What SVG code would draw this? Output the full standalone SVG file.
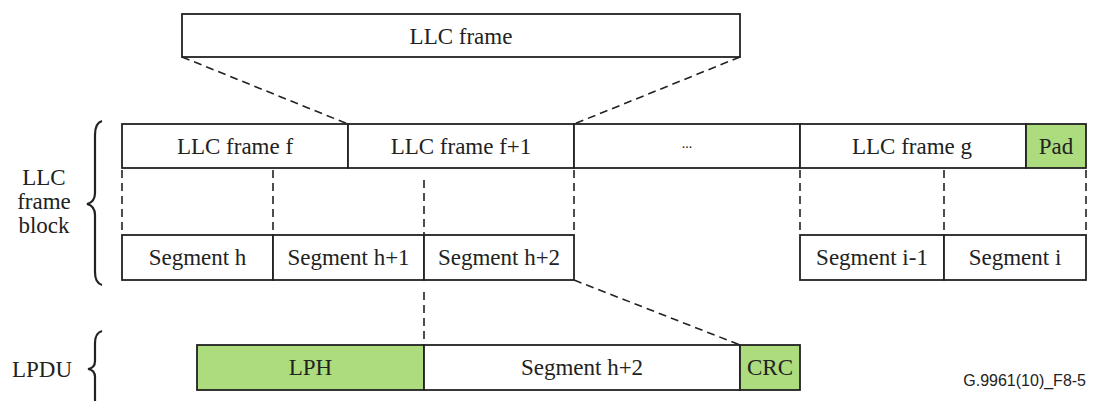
<svg xmlns="http://www.w3.org/2000/svg" width="1094" height="401" viewBox="0 0 1094 401">
<style>
.box{fill:#fff;stroke:#222;stroke-width:1.8}
.g{fill:#acdc7e;stroke:#222;stroke-width:1.8}
.t{font-family:"Liberation Serif","Times New Roman",serif;font-size:23px;fill:#222;text-anchor:middle}
.d{fill:none;stroke:#222;stroke-width:1.6;stroke-dasharray:8,5}
.br{fill:none;stroke:#222;stroke-width:2.2}
.s{font-family:"Liberation Sans",Arial,sans-serif;font-size:16px;fill:#222}
</style>
<rect width="1094" height="401" fill="#fff"/>
<g id="llc-frame"><rect class="box" x="182" y="14" width="558" height="43"/><text class="t" x="461" y="44">LLC frame</text></g>
<g id="connectors">
<line class="d" x1="182" y1="57" x2="348" y2="124"/>
<line class="d" x1="740" y1="57" x2="574" y2="124"/>
<line class="d" x1="122" y1="170" x2="122" y2="235"/>
<line class="d" x1="273" y1="170" x2="273" y2="235"/>
<line class="d" x1="424" y1="180" x2="424" y2="235"/>
<line class="d" x1="574" y1="170" x2="574" y2="235"/>
<line class="d" x1="800" y1="170" x2="800" y2="235"/>
<line class="d" x1="944" y1="170" x2="944" y2="235"/>
<line class="d" x1="1086" y1="170" x2="1086" y2="235"/>
<line class="d" x1="424" y1="292" x2="424" y2="345"/>
<line class="d" x1="574" y1="280" x2="740" y2="345"/>
</g>
<g id="frame-f"><rect class="box" x="122" y="124" width="226" height="44"/><text class="t" x="235" y="154">LLC frame f</text></g>
<g id="frame-f1"><rect class="box" x="348" y="124" width="226" height="44"/><text class="t" x="461" y="154">LLC frame f+1</text></g>
<g id="frame-dots"><rect class="box" x="574" y="124" width="226" height="44"/><text class="t" x="687" y="148" style="font-size:14px">...</text></g>
<g id="frame-g"><rect class="box" x="800" y="124" width="226" height="44"/><text class="t" x="912" y="154">LLC frame g</text></g>
<g id="pad"><rect class="g" x="1026" y="124" width="60" height="44"/><text class="t" x="1056" y="154">Pad</text></g>
<g id="seg-h"><rect class="box" x="122" y="235" width="151" height="45"/><text class="t" x="197.5" y="265">Segment h</text></g>
<g id="seg-h1"><rect class="box" x="273" y="235" width="151" height="45"/><text class="t" x="348.5" y="265">Segment h+1</text></g>
<g id="seg-h2"><rect class="box" x="424" y="235" width="150" height="45"/><text class="t" x="499" y="265">Segment h+2</text></g>
<g id="seg-i1"><rect class="box" x="800" y="235" width="144" height="45"/><text class="t" x="872" y="265">Segment i-1</text></g>
<g id="seg-i"><rect class="box" x="944" y="235" width="142" height="45"/><text class="t" x="1015" y="265">Segment i</text></g>
<g id="lph"><rect class="g" x="197" y="345" width="227" height="45"/><text class="t" x="310.5" y="375">LPH</text></g>
<g id="lpdu-seg"><rect class="box" x="424" y="345" width="316" height="45"/><text class="t" x="582" y="375">Segment h+2</text></g>
<g id="crc"><rect class="g" x="740" y="345" width="60" height="45"/><text class="t" x="770" y="375">CRC</text></g>
<g id="label-block"><text class="t" x="44" y="185">LLC</text><text class="t" x="44" y="209">frame</text><text class="t" x="44" y="233">block</text>
<path class="br" d="M102,121 Q95,123 95,135 L95,193 Q95,202 87,204 Q95,206 95,215 L95,272 Q95,283 102,285"/></g>
<g id="label-lpdu"><text class="t" x="42" y="377">LPDU</text>
<path class="br" d="M102,331 Q95,333 95,343 L95,361 Q95,368 88,369 Q95,370 95,377 L95,401"/></g>
<text class="s" x="1086" y="386" text-anchor="end">G.9961(10)_F8-5</text>
</svg>
